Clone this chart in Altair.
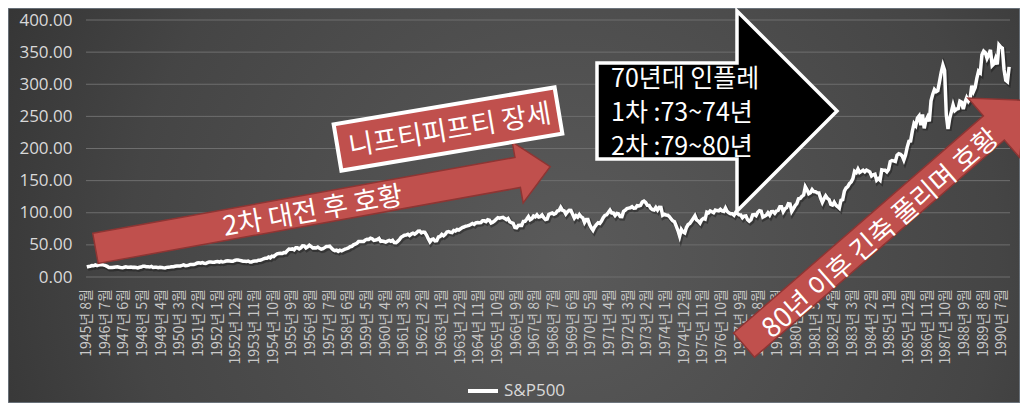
import altair as alt
import pandas as pd

# ---------------- data (monthly S&P500, 1945-08 .. 1990-11) ----------------
start_year = 1945
start_month = 8

sp500_1945_1949 = [
    15.6, 16.4, 16.8, 17.7, 17.4,
    18.7, 17.7, 18.7, 19.3, 19.2, 18.4, 17.8, 16.5, 14.9, 14.8, 14.7, 15.3,
    15.7, 15.8, 15.2, 14.6, 14.3, 15.1, 15.8, 15.3, 15.1, 15.5, 15.0, 15.3,
    14.7, 14.1, 15.1, 15.5, 16.8, 16.7, 16.0, 15.8, 15.5, 16.5, 14.8, 15.2,
    15.2, 14.6, 15.1, 14.7, 14.3, 14.2, 15.0, 15.3, 15.6, 16.0, 16.1, 16.8,
]
sp500_1950s = [
    17.1, 17.2, 17.3, 18.0, 18.8, 17.7, 17.8, 18.4, 19.5, 19.5, 19.5, 20.4,
    21.7, 22.0, 21.5, 22.4, 21.5, 21.0, 22.4, 23.3, 23.3, 22.9, 23.0, 23.8,
    24.1, 23.3, 24.4, 23.3, 24.0, 24.9, 25.4, 25.0, 24.5, 24.5, 25.7, 26.6,
    26.4, 25.9, 25.3, 24.6, 24.5, 24.1, 24.8, 23.3, 23.4, 24.5, 24.8, 24.8,
    26.1, 26.2, 26.9, 28.3, 29.2, 29.2, 31.0, 29.8, 32.3, 31.7, 34.2, 36.0,
    36.6, 36.8, 36.6, 38.0, 37.9, 41.0, 43.5, 43.2, 43.7, 42.3, 45.5, 45.5,
    43.8, 45.3, 48.5, 48.4, 45.2, 47.0, 49.4, 47.5, 45.4, 45.6, 45.1, 46.7,
    44.7, 43.3, 44.1, 45.7, 47.4, 47.4, 47.9, 45.2, 42.4, 41.1, 41.7, 40.0,
    41.7, 40.8, 42.1, 43.4, 44.1, 45.2, 47.2, 47.8, 50.1, 51.3, 52.5, 55.2,
    55.4, 55.4, 55.4, 57.6, 58.7, 58.5, 60.5, 59.6, 56.9, 57.5, 58.3, 59.9,
]
sp500_1960s = [
    55.6, 56.1, 55.3, 54.4, 55.8, 56.9, 55.5, 57.0, 53.5, 53.4, 55.5, 58.1,
    61.8, 63.4, 65.1, 65.3, 66.6, 64.6, 66.8, 68.1, 66.7, 68.6, 71.3, 71.6,
    68.8, 70.0, 69.6, 65.2, 59.6, 54.8, 58.2, 59.1, 56.3, 56.5, 62.3, 63.1,
    66.2, 64.3, 66.6, 70.0, 70.8, 69.4, 69.1, 72.5, 71.7, 74.0, 73.2, 75.0,
    77.0, 77.8, 79.0, 79.5, 80.4, 81.7, 83.2, 81.8, 84.2, 84.9, 84.4, 84.8,
    87.6, 87.4, 86.2, 89.1, 88.4, 84.1, 85.3, 87.2, 90.0, 92.4, 91.6, 92.4,
    92.9, 91.2, 89.2, 91.1, 86.1, 84.7, 83.6, 77.1, 76.6, 80.2, 80.5, 80.3,
    86.6, 86.8, 90.2, 94.0, 89.1, 90.6, 94.8, 93.6, 96.7, 93.3, 94.0, 96.5,
    92.2, 89.4, 90.2, 97.6, 98.7, 99.6, 97.7, 98.9, 102.7, 103.4, 108.4, 103.9,
    103.0, 98.1, 101.5, 103.7, 103.5, 97.7, 91.8, 95.5, 93.1, 97.2, 93.8, 92.1,
]
sp500_1970s = [
    85.0, 89.5, 89.6, 81.5, 76.6, 72.7, 78.1, 81.5, 84.3, 83.3, 87.2, 92.2,
    95.9, 96.8, 100.3, 104.0, 99.6, 99.7, 95.6, 99.0, 98.3, 94.2, 94.0, 102.1,
    103.9, 106.6, 107.2, 107.7, 109.5, 107.1, 107.4, 111.1, 110.6, 111.6, 116.7, 118.1,
    116.0, 111.7, 111.5, 107.0, 105.0, 104.3, 108.2, 104.3, 108.4, 108.3, 96.0, 97.6,
    96.6, 96.2, 94.0, 90.3, 87.3, 86.0, 79.3, 72.2, 63.5, 73.9, 70.0, 68.6,
    77.0, 81.6, 83.4, 87.3, 91.2, 95.2, 88.8, 86.9, 83.9, 89.0, 91.2, 90.2,
    100.9, 99.7, 102.8, 101.6, 100.2, 104.3, 103.4, 102.9, 105.2, 102.9, 102.1, 107.5,
    102.0, 99.8, 98.4, 98.4, 96.1, 100.5, 98.9, 96.8, 96.5, 92.3, 94.8, 95.1,
    89.3, 87.0, 89.2, 96.8, 97.2, 95.5, 100.7, 103.3, 102.5, 93.2, 94.7, 96.1,
    99.9, 96.3, 101.6, 101.8, 99.1, 102.9, 103.8, 109.3, 109.3, 101.8, 106.2, 107.9,
]
sp500_1980s = [
    114.2, 113.7, 102.1, 106.3, 111.2, 114.2, 121.7, 122.4, 125.5, 127.5, 140.5, 135.8,
    129.6, 131.3, 136.0, 132.8, 132.6, 131.2, 130.9, 122.8, 116.2, 121.9, 126.4, 122.6,
    120.4, 113.1, 112.0, 116.4, 111.9, 109.6, 107.1, 119.5, 120.4, 133.7, 138.5, 140.6,
    145.3, 148.1, 153.0, 164.4, 162.4, 168.1, 162.6, 164.4, 166.1, 163.6, 166.4, 164.9,
    163.4, 157.1, 159.2, 160.1, 150.6, 153.2, 150.7, 166.7, 166.1, 166.1, 163.6, 167.2,
    179.6, 181.2, 180.7, 179.8, 189.6, 191.9, 190.9, 188.6, 182.1, 189.8, 202.2, 211.3,
    211.8, 226.9, 238.9, 235.5, 247.4, 250.8, 236.1, 252.9, 231.3, 244.0, 249.2, 242.2,
    274.1, 284.2, 291.7, 288.4, 290.1, 304.0, 318.7, 329.8, 321.8, 251.8, 230.3, 247.1,
    257.1, 267.8, 258.9, 261.3, 262.2, 273.5, 272.0, 261.5, 271.9, 279.0, 273.7, 277.7,
    297.5, 288.9, 294.9, 309.6, 320.5, 318.0, 346.1, 351.5, 349.2, 340.4, 346.0, 353.4,
]
sp500_1990 = [329.1, 331.9, 339.9, 330.8, 361.2, 358.0, 356.2, 322.6, 306.1, 304.0, 327.0]

series_name = "S&P500"
y_ticks = [0, 50, 100, 150, 200, 250, 300, 350, 400]

# annotation texts
arrow1_text = "2차 대전 후 호황"
box_text = "니프티피프티 장세"
inflation_text = ["70년대 인플레", "1차 :73~74년", "2차 :79~80년"]
arrow3_text = "80년 이후 긴축 풀리며 호황"

values = sp500_1945_1949 + sp500_1950s + sp500_1960s + sp500_1970s + sp500_1980s + sp500_1990

months = []
yy, mm = start_year, start_month
for _ in values:
    months.append(f"{yy}년 {mm}월")
    mm += 1
    if mm > 12:
        mm = 1
        yy += 1

tick_labels = months[::11]

df = pd.DataFrame({"month": months, "value": values, "series": series_name})
grid_df = pd.DataFrame({"value": y_ticks})
tick_df = pd.DataFrame({"month": tick_labels})
one = pd.DataFrame({"k": [0]})

W, H = 924, 257
PL, PT, PR, PB = 78, 12, 10, 126
OX, OY = 8 + PL, 8 + PT  # plot origin on page

KFONT = "Noto Sans CJK KR"


def px(x):
    return alt.value(x - OX)


def py(y):
    return alt.value(y - OY)


# ---------------- background ----------------
bg = alt.Chart(one).mark_rect(
    color=alt.RadialGradient(
        gradient="radial",
        stops=[alt.GradientStop(offset=0, color="#5a5a5a"),
               alt.GradientStop(offset=0.55, color="#454545"),
               alt.GradientStop(offset=1, color="#262626")],
        x1=0.55, y1=0.55, r1=0, x2=0.55, y2=0.55, r2=0.78,
    ),
    stroke="#77818c", strokeWidth=1.5,
).encode(x=alt.value(-PL), x2=alt.value(W + PR), y=alt.value(-PT), y2=alt.value(H + PB))

yscale = alt.Scale(domain=[0, 400], nice=False)
yaxis = alt.Axis(values=y_ticks, format=".2f",
                 labelFont="Open Sans", labelFontSize=17, labelColor="#d9d9d9",
                 labelPadding=14, ticks=False, domain=False, grid=False, zindex=1)
yenc = alt.Y("value:Q", title=None, scale=yscale, axis=yaxis)

grid = alt.Chart(grid_df).mark_rule(color="#6e6e6e", strokeWidth=1).encode(y=yenc)

# ---------------- x axis (labels drawn as text so annotations can cover them) ----------
xscale = alt.Scale(type="point", padding=0.5, domain=months)
xenc = alt.X("month:O", sort=None, title=None, scale=xscale, axis=None)

xlabels = alt.Chart(tick_df).mark_text(
    angle=270, align="right", baseline="middle", font=KFONT, fontSize=14,
    color="#c8c8c8",
).encode(x=xenc, y=alt.value(H + 12), text="month:N")

# ---------------- line ----------------
shadow = alt.Chart(df).mark_line(color="#111111", strokeWidth=5, opacity=0.4,
                                 xOffset=1, yOffset=1.5).encode(x=xenc, y=yenc)
line = alt.Chart(df).mark_line(strokeWidth=3.5).encode(
    x=xenc, y=yenc,
    color=alt.Color("series:N", title=None,
                    scale=alt.Scale(range=["#ffffff"]),
                    legend=alt.Legend(orient="none", legendX=380, legendY=354,
                                      symbolType="stroke", symbolStrokeWidth=4,
                                      symbolSize=900, labelFont="Open Sans",
                                      labelFontSize=17, labelColor="#d9d9d9",
                                      padding=0)),
)

# ---------------- annotations ----------------
RED = "#c0504d"
REDLINE = "#8e3533"


def arrow_path(tail, base, tip, half_shaft, half_head):
    return (f"M {-tail} {-half_shaft} L {base} {-half_shaft} L {base} {-half_head} "
            f"L {tip} 0 L {base} {half_head} L {base} {half_shaft} L {-tail} {half_shaft} Z")


arrow1 = alt.Chart(one).mark_point(
    shape=arrow_path(231, 198, 231, 15.3, 31), size=4, filled=True, opacity=1,
    fill=RED, stroke=REDLINE, strokeWidth=1.5, angle=349.8,
).encode(x=px(322.8), y=py(207.5))
arrow1_t = alt.Chart(one).mark_text(
    text=arrow1_text, font=KFONT, fontSize=27, color="white", angle=349.8,
    align="center", baseline="middle",
).encode(x=px(313), y=py(212))

box = alt.Chart(one).mark_point(
    shape="M -112 -23.5 L 112 -23.5 L 112 23.5 L -112 23.5 Z", size=4, filled=True,
    opacity=1, fill=RED, stroke="white", strokeWidth=4, angle=350.5,
).encode(x=px(448), y=py(129))
box_t = alt.Chart(one).mark_text(
    text=box_text, font=KFONT, fontSize=27, color="white", angle=350.5,
    align="center", baseline="middle",
).encode(x=px(450), y=py(131))

black = alt.Chart(one).mark_point(
    shape="M -119 -48 L 21 -48 L 21 -100 L 121 0 L 21 100 L 21 48 L -119 48 Z",
    size=4, filled=True, opacity=1, fill="black", stroke="white", strokeWidth=3.5,
).encode(x=px(716), y=py(111))
black_lines = [
    alt.Chart(one).mark_text(
        text=t, font=KFONT, fontSize=25, color="white",
        align="left", baseline="middle",
    ).encode(x=px(611), y=py(yv))
    for t, yv in zip(inflation_text, [79, 113, 147])
]

arrow3 = alt.Chart(one).mark_point(
    shape=arrow_path(186.5, 144.5, 186.5, 16, 39.5), size=4, filled=True, opacity=1,
    fill=RED, stroke=REDLINE, strokeWidth=1.5, angle=319,
).encode(x=px(884.8), y=py(222.7))
arrow3_t = alt.Chart(one).mark_text(
    text=arrow3_text, font=KFONT, fontSize=27, color="white", angle=319,
    align="center", baseline="middle",
).encode(x=px(881), y=py(234))

chart = alt.layer(
    bg, grid, xlabels, shadow, line, arrow1, arrow1_t, box, box_t, black, *black_lines,
    arrow3, arrow3_t
).properties(
    width=W, height=H,
    autosize=alt.AutoSizeParams(type="none"),
    padding={"left": PL, "top": PT, "right": PR, "bottom": PB},
    background="#2e2e2e",
).configure_view(stroke=None).configure_legend(labelFontSize=17, labelColor="#d9d9d9")

chart.save("out.html", embed_options={"renderer": "svg", "actions": False})
